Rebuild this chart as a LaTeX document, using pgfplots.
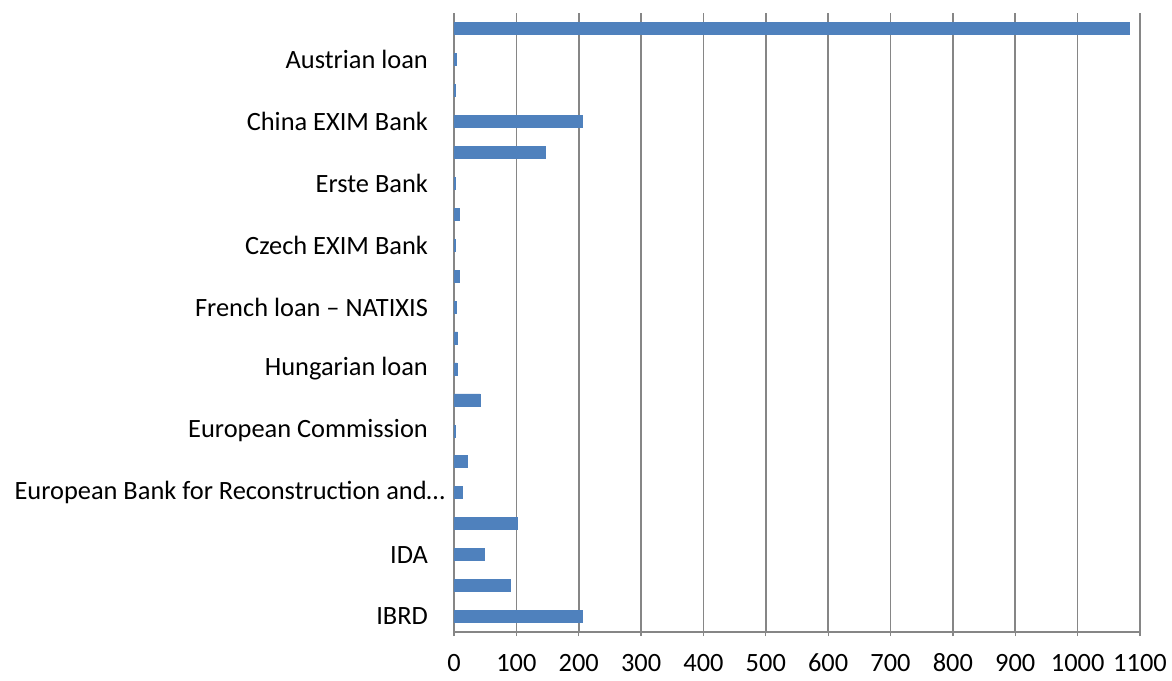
\documentclass[border=0pt]{standalone}
\usepackage{pgfplots}
\pgfplotsset{compat=1.18}
\usepackage{fontspec}
\setmainfont{Carlito}
\definecolor{barblue}{HTML}{4F81BD}
\definecolor{gridgray}{HTML}{868686}
\begin{document}
\begin{tikzpicture}
\begin{axis}[
  at={(0,0)}, anchor=south west,
  scale only axis,
  width=343pt, height=309.5pt,
  xbar, bar width=6pt,
  xmin=0, xmax=1100,
  ymin=-0.5, ymax=19.5,
  xtick={0,100,...,1100},
  ytick={0,...,19},
  yticklabels={IBRD,,IDA,,{European Bank for Reconstruction and…\kern-8.5pt},,European Commission,,Hungarian loan,,French loan – NATIXIS,,Czech EXIM Bank,,Erste Bank,,China EXIM Bank,,Austrian loan,},
  axis x line*=bottom, axis y line*=left,
  axis line style={draw=gridgray, line width=1pt},
  xmajorgrids, grid style={draw=gridgray, line width=0.8pt},
  ytick style={draw=none},
  xtick style={draw=gridgray, line width=0.6pt},
  xtick align=outside, major tick length=2pt,
  /pgf/number format/assume math mode=true,
  /pgf/number format/1000 sep={},
  tick label style={font=\fontsize{13.2}{15}\selectfont, text=black},
  xticklabel style={yshift=-5pt, text height=9pt, text depth=0pt},
  yticklabel style={xshift=-7.5pt},
  clip=false,
]
\addplot[draw=barblue, fill=barblue, line width=0.3pt] coordinates {
  (205,0) (91,1) (49,2) (102,3) (14,4) (22,5) (1.5,6) (42,7) (5,8) (6,9)
  (4,10) (8.5,11) (2,12) (8,13) (2,14) (147,15) (205,16) (2.5,17) (4,18) (1083,19)
};
\end{axis}
\pgfresetboundingbox
\path (-227pt,-24pt) rectangle (359pt,316pt);
\end{tikzpicture}
\end{document}
